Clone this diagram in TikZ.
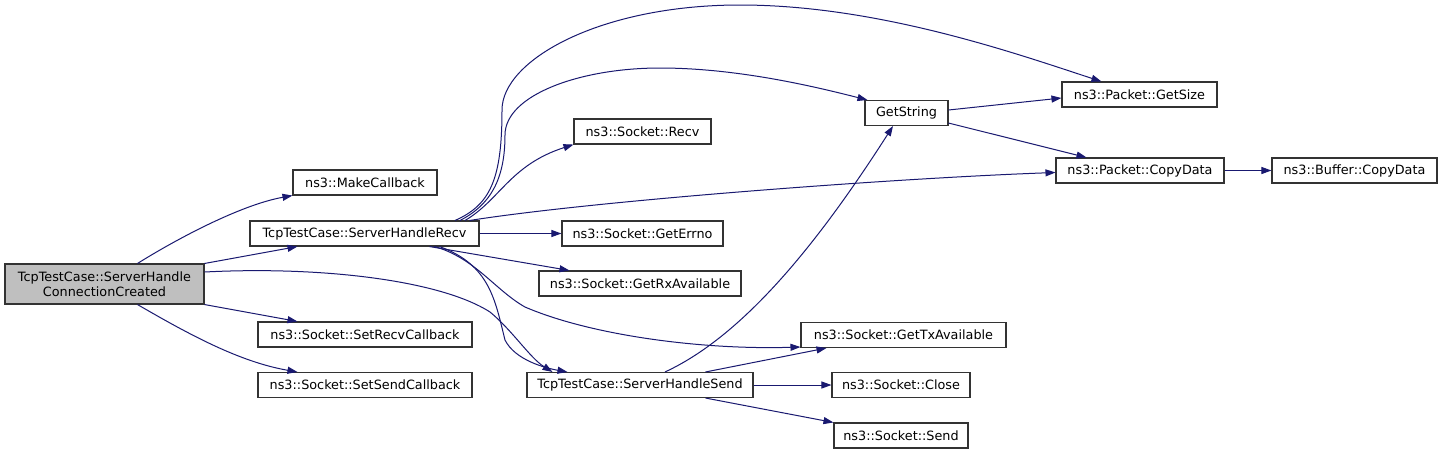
\documentclass[tikz,border=0pt]{standalone}
\usepackage{fontspec}
\setmainfont{DejaVu Sans}
\usetikzlibrary{arrows.meta,calc}
\definecolor{edgeblue}{HTML}{191970}
\definecolor{rootgray}{HTML}{BFBFBF}
\definecolor{boxline}{HTML}{333333}
\begin{document}
\begin{tikzpicture}[x=0.75pt,y=-0.75pt,
  fbox/.style={draw=boxline,line width=0.8pt,fill=white,inner sep=0pt,minimum height=18.75pt,
    font=\fontsize{9.6}{11.5}\selectfont,align=center},
  edge/.style={draw=edgeblue,line width=0.75pt,-{Triangle[length=7.5pt,width=5.25pt]}}]
\useasboundingbox[fill=white] (0,0) rectangle (1443,455);
% nodes
\node[fbox,fill=rootgray,minimum width=149.25pt,minimum height=30pt] (root) at (104.5,284) {TcpTestCase::ServerHandle\\ConnectionCreated};
\node[fbox,minimum width=108pt] (make) at (365,182.5) {ns3::MakeCallback};
\node[fbox,minimum width=171.75pt] (recvH) at (364.5,233.5) {TcpTestCase::ServerHandleRecv};
\node[fbox,minimum width=160.5pt] (setRecv) at (365,334.5) {ns3::Socket::SetRecvCallback};
\node[fbox,minimum width=160.5pt] (setSend) at (365,385) {ns3::Socket::SetSendCallback};
\node[fbox,minimum width=102.75pt] (recv) at (642.5,131.5) {ns3::Socket::Recv};
\node[fbox,minimum width=120.75pt] (errno) at (642.5,233.5) {ns3::Socket::GetErrno};
\node[fbox,minimum width=62.25pt] (getstr) at (906.5,113) {GetString};
\node[fbox,minimum width=151.5pt] (rxavail) at (640,283.5) {ns3::Socket::GetRxAvailable};
\node[fbox,minimum width=153.75pt] (txavail) at (903.5,335) {ns3::Socket::GetTxAvailable};
\node[fbox,minimum width=169.5pt] (sendH) at (640,385) {TcpTestCase::ServerHandleSend};
\node[fbox,minimum width=103.5pt] (close) at (901,385) {ns3::Socket::Close};
\node[fbox,minimum width=100.5pt] (send) at (901,435.5) {ns3::Socket::Send};
\node[fbox,minimum width=116.25pt] (getsize) at (1139.5,94.5) {ns3::Packet::GetSize};
\node[fbox,minimum width=126pt] (pcopy) at (1140,170.5) {ns3::Packet::CopyData};
\node[fbox,minimum width=123.75pt] (bcopy) at (1354.5,170.5) {ns3::Buffer::CopyData};
% edges from root
\draw[edge] ($(root.north)+(33,0)$) .. controls (175,240) and (240,205) .. (make.south west);
\draw[edge] (root.north east) -- ($(recvH.south west)+(48,0)$);
\draw[edge] ($(root.east)+(0,-12)$) .. controls (320,266) and (440,280) .. (490,312) .. controls (512,330) and (530,358) .. ($(sendH.north west)+(26,0)$);
\draw[edge] (root.south east) -- ($(setRecv.north west)+(40,0)$);
\draw[edge] ($(root.south)+(33,0)$) .. controls (190,335) and (240,362) .. ($(setSend.north west)+(40,0)$);
% edges from ServerHandleRecv
\draw[edge] ($(recvH.north)+(90.5,0)$) .. controls (490,205) and (502,180) .. (502,110) .. controls (502,60) and (600,5) .. (740,5) .. controls (880,5) and (1020,55) .. ($(getsize.north west)+(40,0)$);
\draw[edge] ($(recvH.north)+(95.5,0)$) .. controls (490,205) and (505,180) .. (505,135) .. controls (505,95) and (580,68) .. (660,68) .. controls (740,68) and (820,88) .. ($(getstr.north west)+(3,0)$);
\draw[edge] ($(recvH.north)+(100.5,0)$) .. controls (500,200) and (510,165) .. (recv.south west);
\draw[edge] ($(recvH.north east)+(-10,0)$) .. controls (600,200) and (900,178) .. ($(pcopy.west)+(0,2)$);
\draw[edge] (recvH.east) -- (errno.west);
\draw[edge] ($(recvH.south)+(65,0)$) -- ($(rxavail.north west)+(31,0)$);
\draw[edge] ($(recvH.south)+(70,0)$) .. controls (475,258) and (495,290) .. (525,307) .. controls (590,335) and (700,350) .. ($(txavail.west)+(0,12)$);
\draw[edge] ($(recvH.south)+(75,0)$) .. controls (490,265) and (495,300) .. (505,340) .. controls (515,360) and (545,368) .. ($(sendH.north west)+(41,0)$);
% edges from ServerHandleSend
\draw[edge] ($(sendH.north)+(25,0)$) .. controls (745,335) and (820,240) .. ($(getstr.south)+(-13.5,0)$);
\draw[edge] ($(sendH.north east)+(-48,0)$) -- ($(txavail.south west)+(26,0)$);
\draw[edge] (sendH.east) -- (close.west);
\draw[edge] ($(sendH.south east)+(-48,0)$) -- (send.north west);
% edges from GetString
\draw[edge] ($(getstr.east)+(0,-3)$) -- ($(getsize.west)+(0,3.5)$);
\draw[edge] ($(getstr.south east)+(0,-3)$) -- ($(pcopy.north west)+(31,0)$);
\draw[edge] (pcopy.east) -- (bcopy.west);
\end{tikzpicture}
\end{document}
